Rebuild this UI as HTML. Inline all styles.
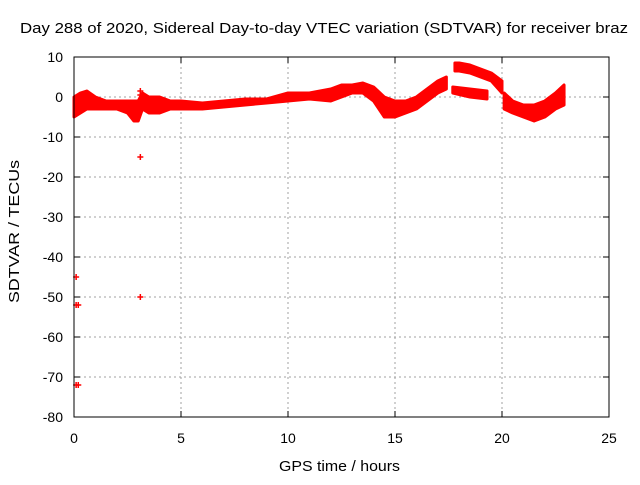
<!DOCTYPE html>
<html><head><meta charset="utf-8"><style>
body{margin:0;background:#fff}
svg text{font-family:"Liberation Sans",sans-serif;font-size:14px;fill:#000}
</style></head><body>
<svg id="c" width="640" height="480">
<text x="20" y="33" textLength="608" lengthAdjust="spacingAndGlyphs" style="font-size:15px">Day 288 of 2020, Sidereal Day-to-day VTEC variation (SDTVAR) for receiver braz</text>
<text x="279" y="471" textLength="121" lengthAdjust="spacingAndGlyphs" style="font-size:15px">GPS time / hours</text>
<text transform="translate(19,303) rotate(-90)" textLength="143" lengthAdjust="spacingAndGlyphs" style="font-size:15px">SDTVAR / TECUs</text>
<g id="grid"></g><g id="data"></g>
<rect x="74" y="57" width="535" height="360" fill="none" stroke="#000" stroke-width="1"/>
</svg>
<script>
const xTicks=[0,5,10,15,20,25];
const yTicks=[10,0,-10,-20,-30,-40,-50,-60,-70,-80];
const mainT=[0,0.3,0.6,1,1.5,2,2.5,2.8,3,3.2,3.5,4,4.5,5,6,7,8,9,10,11,12,12.5,13,13.5,14,14.5,15,15.5,16,16.5,17,17.4];
const mainLo=[-5,-4,-3,-3,-3,-3,-4,-6,-6,-3,-4,-4,-3,-3,-3,-2.5,-2,-1.5,-1,-0.5,-1,0,1,1,-1,-5,-5,-4,-3,-1,1,2];
const mainHi=[0,1,1.5,0,-1,-1,-1,-1,-1,1,0,0,-1,-1,-1.5,-1,-0.5,-0.5,1,1,2,3,3,3.5,2.5,0,-1,-1,0,2,4,5];
const upT=[17.8,18,18.5,19,19.5,20];
const upLo=[6.5,6.5,6,5,4,1];
const upHi=[8.5,8.5,8,7,6,4];
const lowT=[17.7,18.5,19.3];
const lowLo=[1,0,-0.5];
const lowHi=[2.5,2,1.5];
const endT=[20.1,20.5,21,21.5,22,22.5,22.9];
const endLo=[-3,-4,-5,-6,-5,-3,-2];
const endHi=[1,-1,-2,-2,-1,1,3];
const outX=[0.1,0.1,0.2,0.1,0.2,3.1,3.1,3.1,3.1];
const outY=[-45,-52,-52,-72,-72,-15,-50,1.5,0.5];
const X=v=>74+v*535/25, Y=v=>97-v*4;
const NS="http://www.w3.org/2000/svg";
const g=document.getElementById('grid'), d=document.getElementById('data');
function mk(tag,attrs,parent){const e=document.createElementNS(NS,tag);for(const k in attrs)e.setAttribute(k,attrs[k]);parent.appendChild(e);return e;}
xTicks.forEach(t=>{
 if(t>0&&t<25){const l=mk('line',{x1:X(t),x2:X(t),y1:57,y2:417,stroke:'#a0a0a0','stroke-dasharray':'2,3'},g);
 
 }
 mk('line',{x1:X(t),x2:X(t),y1:417,y2:411,stroke:'#000'},g);
 mk('line',{x1:X(t),x2:X(t),y1:57,y2:63,stroke:'#000'},g);
 const tx=mk('text',{x:X(t),y:443,'text-anchor':'middle'},g);tx.textContent=t;
 
 
});
yTicks.forEach(t=>{
 if(t<10&&t>-80){const l=mk('line',{x1:74,x2:609,y1:Y(t),y2:Y(t),stroke:'#a0a0a0','stroke-dasharray':'2,3'},g);
 
 }
 mk('line',{x1:74,x2:80,y1:Y(t),y2:Y(t),stroke:'#000'},g);
 mk('line',{x1:603,x2:609,y1:Y(t),y2:Y(t),stroke:'#000'},g);
 const tx=mk('text',{x:63,y:Y(t)+5,'text-anchor':'end'},g);tx.textContent=t;
 
 
});
function band(T,lo,hi,name){
 const pts=T.map((t,i)=>X(t)+','+Y(hi[i])).concat(T.map((t,i)=>X(t)+','+Y(lo[i])).reverse());
 const p=mk('polygon',{points:pts.join(' '),fill:'#f00',stroke:'#f00','stroke-width':3,'stroke-linejoin':'round'},d);
 
 
}
band(mainT,mainLo,mainHi,'sdtvar-main-band');
band(upT,upLo,upHi,'sdtvar-upper-arc');
band(lowT,lowLo,lowHi,'sdtvar-lower-arc');
band(endT,endLo,endHi,'sdtvar-end-band');
outX.forEach((x,i)=>{
 const p=mk('path',{d:`M${X(x)-3},${Y(outY[i])}h6M${X(x)},${Y(outY[i])-3}v6`,stroke:'#f00','stroke-width':1.5},d);
 
 
});
</script>
</body></html>
